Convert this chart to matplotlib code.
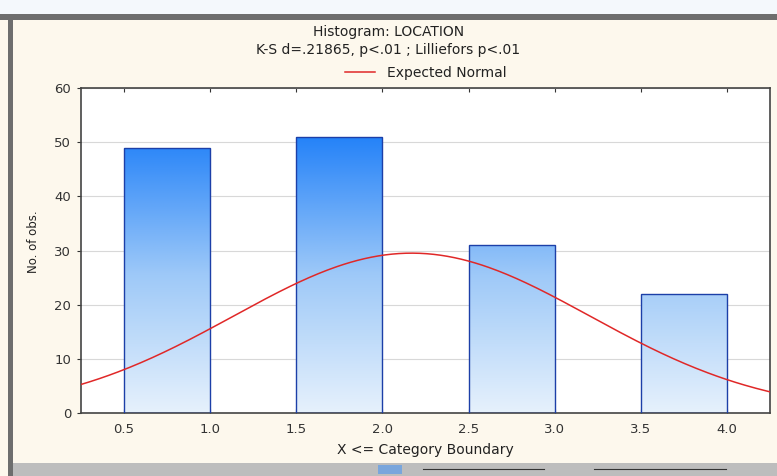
import numpy as np
import matplotlib.pyplot as plt
from matplotlib.patches import Rectangle
from matplotlib.colors import LinearSegmentedColormap

# histogram data (category upper boundaries and counts)
bin_left = [0.5, 1.5, 2.5, 3.5]
counts = [49, 51, 31, 22]
bin_width = 0.5
xtick_vals = [0.5, 1.0, 1.5, 2.0, 2.5, 3.0, 3.5, 4.0]
ytick_vals = [0, 10, 20, 30, 40, 50, 60]

# expected normal parameters (fitted from the counts above)
n_obs = 153
mean_x = 2.17
sd_x = 1.034

plt.rcParams['font.family'] = ['DejaVu Sans']

fig = plt.figure(figsize=(7.77, 4.76), dpi=100)
fig.patch.set_facecolor('#fdf8ed')

# window chrome: white strip on top, grey frame, toolbar at the bottom
fig.add_artist(Rectangle((0, 0.97), 1, 0.03, transform=fig.transFigure,
                         facecolor='#f4f8fc', edgecolor='none', zorder=0))
fig.add_artist(Rectangle((0, 0.958), 1, 0.012, transform=fig.transFigure,
                         facecolor='#6e6e6e', edgecolor='none', zorder=0))
fig.add_artist(Rectangle((0.010, 0), 0.007, 0.97, transform=fig.transFigure,
                         facecolor='#6e6e6e', edgecolor='none', zorder=0))
fig.add_artist(Rectangle((0.017, 0), 0.983, 0.028, transform=fig.transFigure,
                         facecolor='#bdbdbd', edgecolor='none', zorder=0))
fig.add_artist(plt.Line2D([0.545, 0.70], [0.014, 0.014], transform=fig.transFigure,
                          color='#333333', lw=0.8))
fig.add_artist(plt.Line2D([0.765, 0.935], [0.014, 0.014], transform=fig.transFigure,
                          color='#333333', lw=0.8))
fig.add_artist(Rectangle((0.487, 0.004), 0.03, 0.019, transform=fig.transFigure,
                         facecolor='#7aa6dc', edgecolor='none'))

ax = fig.add_axes([0.1042, 0.1324, 0.8868, 0.6826])
ax.set_facecolor('white')

# gradient bars (gradient runs over the y range, so shorter bars are lighter)
cmap = LinearSegmentedColormap.from_list('bar', ['#e6f1fc', '#9ec9f8', '#2482f8'])
grad = np.linspace(0, 1, 256).reshape(-1, 1)
top = max(counts)
for left, h in zip(bin_left, counts):
    im = ax.imshow(grad, cmap=cmap, aspect='auto', origin='lower',
                   extent=[left, left + bin_width, 0, top], zorder=2)
    rect = Rectangle((left, 0), bin_width, h, facecolor='none',
                     edgecolor='#1c3fa8', lw=1.0, zorder=3)
    ax.add_patch(rect)
    im.set_clip_path(rect)

# expected normal curve
xs = np.linspace(0.25, 4.25, 300)
ys = n_obs * bin_width * np.exp(-0.5 * ((xs - mean_x) / sd_x) ** 2) / (sd_x * np.sqrt(2 * np.pi))
line, = ax.plot(xs, ys, color='#e02828', lw=1.1, zorder=4)

ax.set_xlim(0.25, 4.25)
ax.set_ylim(0, 60)
ax.set_xticks(xtick_vals)
ax.set_xticklabels(['%.1f' % v for v in xtick_vals])
ax.set_yticks(ytick_vals)
ax.grid(axis='y', color='#d8d8d8', lw=0.8, zorder=1)
ax.tick_params(axis='x', direction='in', length=3, top=True, labelsize=9.5,
               colors='#333333', pad=7)
ax.tick_params(axis='y', direction='out', length=3, labelsize=9.5,
               colors='#333333', pad=4)
for s in ax.spines.values():
    s.set_color('#444444')
    s.set_linewidth(1.2)
ax.set_axisbelow(True)

ax.set_xlabel('X <= Category Boundary', fontsize=10, color='#222222', labelpad=5)
ax.set_ylabel('No. of obs.', fontsize=8.5, color='#222222')
ax.yaxis.set_label_coords(-0.06, 0.526)

fig.text(0.5, 0.933, 'Histogram: LOCATION', ha='center', va='center',
         fontsize=10, color='#222222')
fig.text(0.5, 0.895, 'K-S d=.21865, p<.01 ; Lilliefors p<.01', ha='center',
         va='center', fontsize=10, color='#222222')
ax.legend([line], ['Expected Normal'], loc='lower center',
          bbox_to_anchor=(0.5, 1.0), frameon=False, fontsize=10,
          handlelength=2.2, borderaxespad=0.2, labelcolor='#222222')

fig.savefig('out.png', dpi=100, facecolor=fig.get_facecolor())
